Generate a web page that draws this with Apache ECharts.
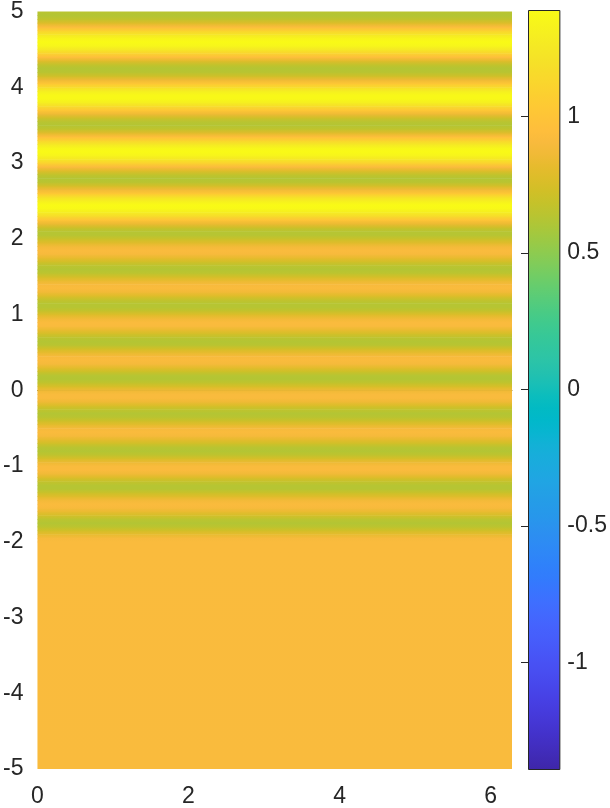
<!DOCTYPE html>
<html>
<head>
<meta charset="utf-8">
<script src="https://cdn.jsdelivr.net/npm/echarts@6/dist/echarts.min.js"></script>
<style>
  html, body { margin: 0; padding: 0; background: #fff; }
  #chart { width: 610px; height: 808px; }
</style>
</head>
<body>
<div id="chart"></div>
<script>
// field values read along y (they hardly change along x)
var xRange = [0, 6.2832];
var flatY = -5;          // constant part below the stripes
var flatValue = 0.91;
var profileStart = -2.0; // first sampled row
var profileStep = 0.05;
var profileValues = [
    0.92, 0.90, 0.82, 0.73, 0.65, 0.62, 0.65, 0.74, 0.83, 0.90,
    0.92, 0.88, 0.79, 0.70, 0.63, 0.63, 0.68, 0.77, 0.87, 0.92,
    0.91, 0.85, 0.75, 0.66, 0.62, 0.64, 0.72, 0.81, 0.89, 0.92,
    0.89, 0.80, 0.71, 0.64, 0.62, 0.67, 0.76, 0.86, 0.91, 0.91,
    0.86, 0.76, 0.67, 0.62, 0.63, 0.71, 0.80, 0.89, 0.92, 0.90,
    0.82, 0.73, 0.64, 0.62, 0.66, 0.74, 0.83, 0.91, 0.92, 0.87,
    0.78, 0.68, 0.63, 0.63, 0.68, 0.78, 0.87, 0.92, 0.90, 0.83,
    0.74, 0.65, 0.62, 0.65, 0.73, 0.82, 0.90, 0.92, 0.88, 0.79,
    0.70, 0.63,
    0.63, 0.71, 0.84, 1.00, 1.16, 1.29, 1.37, 1.38, 1.31, 1.20,
    1.03, 0.87, 0.74, 0.64, 0.62, 0.67, 0.78, 0.92, 1.10, 1.24,
    1.34, 1.38, 1.35, 1.25, 1.11, 0.95, 0.79, 0.67, 0.62, 0.64,
    0.72, 0.86, 1.02, 1.17, 1.30, 1.37, 1.37, 1.30, 1.17, 1.02,
    0.86, 0.72, 0.64, 0.62, 0.67, 0.79, 0.95, 1.11, 1.25, 1.35,
    1.38, 1.34, 1.24, 1.10, 0.93, 0.78, 0.67, 0.62, 0.64
];
var colorLimits = [-1.39, 1.39];
var colorbarTicks = [-1, -0.5, 0, 0.5, 1];
var xTicks = [0, 2, 4, 6];

// parula colormap (64 steps)
var parula = [
    [0.2422,0.1504,0.6603],[0.2504,0.1650,0.7076],[0.2578,0.1818,0.7511],[0.2647,0.1978,0.7952],
    [0.2706,0.2147,0.8364],[0.2751,0.2342,0.8710],[0.2783,0.2559,0.8991],[0.2803,0.2782,0.9221],
    [0.2813,0.3006,0.9414],[0.2810,0.3228,0.9579],[0.2795,0.3447,0.9717],[0.2760,0.3667,0.9829],
    [0.2699,0.3892,0.9906],[0.2602,0.4123,0.9952],[0.2440,0.4358,0.9988],[0.2206,0.4603,0.9973],
    [0.1963,0.4847,0.9892],[0.1834,0.5074,0.9798],[0.1786,0.5289,0.9682],[0.1764,0.5499,0.9520],
    [0.1687,0.5703,0.9359],[0.1540,0.5902,0.9218],[0.1460,0.6091,0.9079],[0.1380,0.6276,0.8973],
    [0.1248,0.6459,0.8883],[0.1113,0.6635,0.8763],[0.0952,0.6798,0.8598],[0.0689,0.6948,0.8394],
    [0.0297,0.7082,0.8163],[0.0036,0.7203,0.7917],[0.0067,0.7312,0.7660],[0.0433,0.7411,0.7394],
    [0.0964,0.7500,0.7120],[0.1408,0.7584,0.6842],[0.1717,0.7670,0.6554],[0.1938,0.7758,0.6251],
    [0.2161,0.7843,0.5923],[0.2470,0.7918,0.5567],[0.2906,0.7973,0.5188],[0.3406,0.8008,0.4789],
    [0.3909,0.8029,0.4354],[0.4456,0.8024,0.3909],[0.5044,0.7993,0.3480],[0.5616,0.7942,0.3045],
    [0.6174,0.7876,0.2612],[0.6720,0.7793,0.2227],[0.7242,0.7698,0.1910],[0.7738,0.7598,0.1646],
    [0.8203,0.7498,0.1535],[0.8634,0.7406,0.1596],[0.9035,0.7330,0.1774],[0.9393,0.7288,0.2100],
    [0.9728,0.7298,0.2394],[0.9956,0.7434,0.2371],[0.9970,0.7659,0.2199],[0.9952,0.7893,0.2028],
    [0.9892,0.8136,0.1885],[0.9786,0.8386,0.1766],[0.9676,0.8639,0.1643],[0.9610,0.8890,0.1537],
    [0.9597,0.9135,0.1423],[0.9628,0.9373,0.1265],[0.9691,0.9606,0.1064],[0.9769,0.9839,0.0805]
];

function rgbOf(c) {
    return 'rgb(' + Math.round(c[0] * 255) + ',' + Math.round(c[1] * 255) + ',' + Math.round(c[2] * 255) + ')';
}

function parulaColor(v) {
    var t = (v - colorLimits[0]) / (colorLimits[1] - colorLimits[0]);
    t = Math.max(0, Math.min(1, t));
    var pos = t * (parula.length - 1);
    var i = Math.min(Math.floor(pos), parula.length - 2);
    var f = pos - i;
    var a = parula[i], b = parula[i + 1];
    return rgbOf([a[0] + (b[0] - a[0]) * f, a[1] + (b[1] - a[1]) * f, a[2] + (b[2] - a[2]) * f]);
}

// rows: [yBottom, yTop, valueBottom, valueTop]
var nodes = [[flatY, flatValue]];
profileValues.forEach(function (v, i) {
    nodes.push([+(profileStart + i * profileStep).toFixed(2), v]);
});
var bands = [];
for (var i = 0; i < nodes.length - 1; i++) {
    bands.push([nodes[i][0], nodes[i + 1][0], nodes[i][1], nodes[i + 1][1]]);
}

var font = "'Liberation Sans', Arial, sans-serif";
var textColor = '#262626';

var chart = echarts.init(document.getElementById('chart'), null, { renderer: 'canvas' });

var option = {
    animation: false,
    backgroundColor: '#fff',
    grid: [
        { left: 34, top: 11, width: 478, height: 758 },
        { left: 528, top: 10, width: 33, height: 759 }
    ],
    xAxis: [
        {
            gridIndex: 0, type: 'value', min: xRange[0], max: xRange[1], interval: 2,
            axisLine: { show: true, lineStyle: { color: '#8a7030', width: 1 } },
            axisTick: { show: false },
            splitLine: { show: false },
            axisLabel: {
                customValues: xTicks,
                color: textColor, fontSize: 23, fontFamily: font, margin: 16
            }
        },
        {
            gridIndex: 1, type: 'value', min: 0, max: 1,
            show: false
        }
    ],
    yAxis: [
        {
            gridIndex: 0, type: 'value', min: -5, max: 5, interval: 1,
            axisLine: { show: false },
            axisTick: { show: false },
            splitLine: { show: false },
            axisLabel: { color: textColor, fontSize: 23, fontFamily: font, margin: 14 }
        },
        {
            gridIndex: 1, type: 'value', min: colorLimits[0], max: colorLimits[1],
            position: 'right',
            axisLine: { show: false },
            axisTick: {
                show: true, inside: true, length: 7, customValues: colorbarTicks,
                lineStyle: { color: textColor, width: 1 }
            },
            splitLine: { show: false },
            axisLabel: {
                customValues: colorbarTicks,
                color: textColor, fontSize: 23, fontFamily: font, margin: 8
            }
        }
    ],
    series: [
        {
            type: 'custom',
            xAxisIndex: 0,
            yAxisIndex: 0,
            data: bands,
            encode: { y: [0, 1] },
            renderItem: function (params, api) {
                var top = api.coord([xRange[0], api.value(1)]);
                var bot = api.coord([xRange[1], api.value(0)]);
                var extra = params.dataIndex > 0 ? 0.6 : 0;
                return {
                    type: 'rect',
                    shape: { x: top[0], y: top[1], width: bot[0] - top[0], height: bot[1] - top[1] + extra },
                    style: {
                        fill: {
                            type: 'linear', x: 0, y: 0, x2: 0, y2: 1,
                            colorStops: [
                                { offset: 0, color: parulaColor(api.value(3)) },
                                { offset: 1, color: parulaColor(api.value(2)) }
                            ]
                        }
                    }
                };
            }
        },
        {
            type: 'custom',
            xAxisIndex: 1,
            yAxisIndex: 1,
            data: [[0, colorLimits[0], colorLimits[1]]],
            renderItem: function (params, api) {
                var top = api.coord([0, colorLimits[1]]);
                var bot = api.coord([1, colorLimits[0]]);
                var stops = parula.map(function (c, k) {
                    return { offset: 1 - k / (parula.length - 1), color: rgbOf(c) };
                }).reverse();
                return {
                    type: 'rect',
                    shape: { x: top[0] + 0.5, y: top[1] + 0.5, width: bot[0] - top[0], height: bot[1] - top[1] },
                    style: {
                        fill: { type: 'linear', x: 0, y: 0, x2: 0, y2: 1, colorStops: stops },
                        stroke: textColor,
                        lineWidth: 1
                    },
                    z2: -1
                };
            }
        }
    ]
};

chart.setOption(option);
</script>
</body>
</html>
